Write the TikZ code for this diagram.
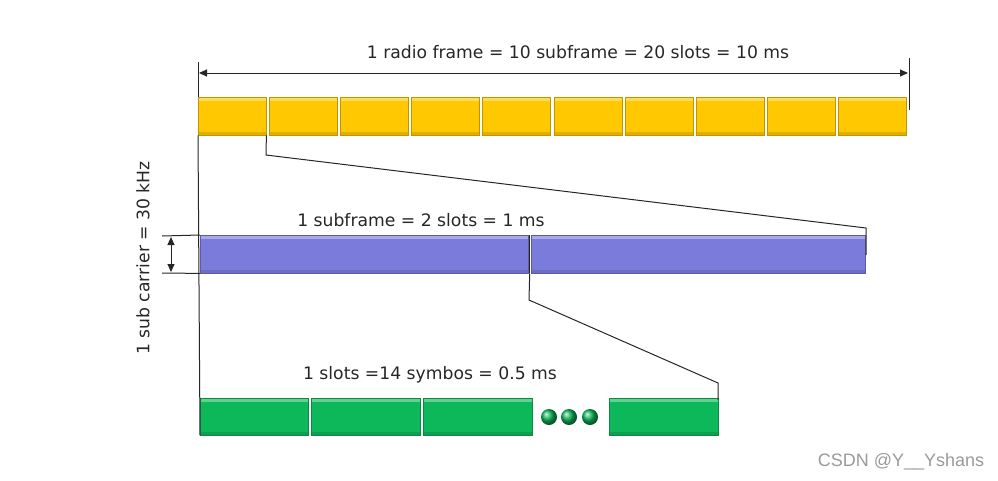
\documentclass[tikz,border=0pt]{standalone}
\usepackage{fontspec}
\setmainfont{DejaVu Sans}
\usetikzlibrary{arrows.meta,calc}
\definecolor{yel}{HTML}{FFC800}
\definecolor{pur}{HTML}{7B7BDB}
\definecolor{grn}{HTML}{0DB85A}
\definecolor{wm}{HTML}{9A9A9A}
\tikzset{
  bar/.style={rectangle, inner sep=0pt, anchor=north west, draw=#1!75!black, line width=0.4pt,
    fill=#1,
    path picture={\fill[white,opacity=0.35] (path picture bounding box.north west) rectangle ([yshift=-4pt]path picture bounding box.north east);
                  \fill[black,opacity=0.12] ([yshift=3pt]path picture bounding box.south west) rectangle (path picture bounding box.south east);}},
  ybar/.style={bar=yel, minimum width=68pt, minimum height=38pt},
  pbar/.style={bar=pur, minimum height=38pt},
  gbar/.style={bar=grn, minimum height=37pt},
  dot/.style={circle, inner sep=0pt, minimum size=16pt, ball color=grn},
  lbl/.style={font=\fontsize{17.2}{20}\selectfont, text=black!85},
  conn/.style={draw=black!85, line width=1pt},
  tip/.style={{Triangle[length=8pt,width=7pt]}-{Triangle[length=8pt,width=7pt]}},
}
\begin{document}
\begin{tikzpicture}[x=1pt,y=-1pt]
\useasboundingbox (0,0) rectangle (998,480);
% end ticks of the frame
\coordinate (ytop) at (198,62);
\coordinate (ybot) at (198,110);
\coordinate (rtop) at (909,58);
\coordinate (rbot) at (909,110);
\draw[conn] (ytop) -- (ybot);
\draw[conn] (rtop) -- (rbot);
% yellow row
\foreach \i in {1,...,10}{
  \node[ybar] (y\i) at ({198+71.1*(\i-1)},97) {};
}
% purple row
\node[pbar, minimum width=328pt] (p1) at (200,235) {};
\node[pbar, minimum width=334pt] (p2) at (531,235) {};
% green row
\node[gbar, minimum width=108pt] (g1) at (200,398) {};
\node[gbar, minimum width=109pt] (g2) at (311,398) {};
\node[gbar, minimum width=109pt] (g3) at (423,398) {};
\node[gbar, minimum width=109pt] (g4) at (609,398) {};
\node[dot] (d1) at (549,417) {};
\node[dot] (d2) at (569,417) {};
\node[dot] (d3) at (590,417) {};
% arrow over the frame
\coordinate (al) at (199,73);
\coordinate (ar) at (908,73);
\draw[conn, tip] (al) -- (ar);
\node[lbl] (t1) at (578,52) {1 radio frame = 10 subframe = 20 slots = 10 ms};
% zoom lines
\coordinate (z1) at (266,155);
\coordinate (z2) at (866,228);
\coordinate (z3) at (866,255);
\draw[conn] (y1.south east) -- (z1) -- (z2) -- (z3);
\draw[conn] (y1.south west) -- (g1.south west);
\coordinate (w1) at (529,300);
\coordinate (w2) at (718,383);
\coordinate (w3) at (718,400);
\draw[conn] ($(p1.south east)!0.5!(p2.south west)$) -- (w1) -- (w2) -- (w3);
\draw[conn] ($(p1.north east)!0.5!(p2.north west)$) -- ($(p1.south east)!0.5!(p2.south west)$);
\node[lbl] (t2) at (421,220) {1 subframe = 2 slots = 1 ms};
\node[lbl] (t3) at (430,375) {1 slots =14 symbos = 0.5 ms};
% sub carrier bracket
\coordinate (b1) at (162,236);
\coordinate (b2) at (162,273);
\draw[conn] (b1) -- (p1.north west);
\draw[conn] (b2) -- (p1.south west);
\coordinate (c1) at (171,237);
\coordinate (c2) at (171,272);
\draw[conn, tip] (c1) -- (c2);
\node[lbl, rotate=90] (t4) at (143,258) {1 sub carrier = 30 kHz};
% watermark
\node[font=\fontsize{18}{20}\selectfont\fontspec{Liberation Sans}, text=wm] (wmk) at (901,462) {CSDN @Y\_\_Yshans};
\end{tikzpicture}
\end{document}
